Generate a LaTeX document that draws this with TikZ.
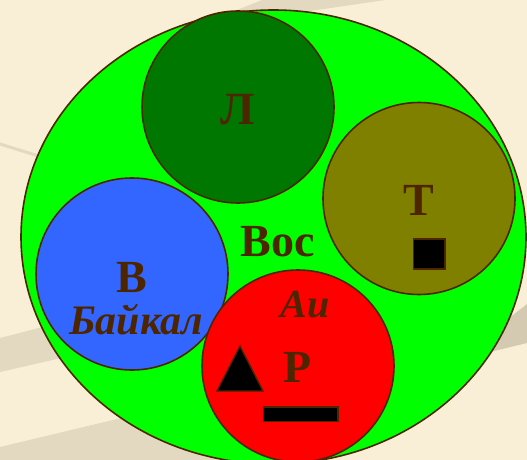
\documentclass[tikz,border=0pt]{standalone}
\usepackage{fontspec}
\setmainfont{Liberation Serif}
\usetikzlibrary{positioning}

\definecolor{bgBeige}{RGB}{248,239,214}
\definecolor{bgStripe}{RGB}{226,217,192}
\definecolor{bgStripeDark}{RGB}{212,202,178}
\definecolor{rimBrown}{RGB}{77,38,0}
\definecolor{lakeGreen}{RGB}{0,255,0}
\definecolor{darkGreen}{RGB}{0,119,0}
\definecolor{oliveDisc}{RGB}{128,128,0}
\definecolor{blueDisc}{RGB}{51,102,255}
\definecolor{redDisc}{RGB}{255,0,0}

\tikzset{
  disc/.style={
    circle, draw=rimBrown, line width=1.6pt,
    minimum size=192pt, inner sep=0pt
  },
  bigLabel/.style={
    text=rimBrown, inner sep=0pt, anchor=base,
    font=\fontsize{46}{46}\selectfont\bfseries
  },
  slantLabel/.style={
    text=rimBrown, inner sep=0pt, anchor=base,
    font=\fontsize{#1}{#1}\selectfont\bfseries\itshape
  },
  markShape/.style={fill=black, draw=rimBrown, line width=1.4pt}
}

\begin{document}
\begin{tikzpicture}[x=1pt, y=-1pt]

\useasboundingbox (0,0) rectangle (527,460);
\clip (0,0) rectangle (527,460);

% --- background ---
\fill[bgBeige] (0,0) rectangle (527,460);
\fill[bgStripe] (222,16) -- (262,0) -- (385,0) -- (290,14) -- cycle;
\draw[bgStripe, line width=3pt] (0,144) -- (45,158);
\fill[bgStripe] (0,338) -- (70,320) -- (70,356) -- (0,372) -- cycle;
\fill[bgStripe] (0,447) -- (280,380) -- (280,460) -- (0,460) -- cycle;
\fill[bgStripeDark] (490,333) -- (527,304) -- (527,343) -- (490,352) -- cycle;

% --- outer lake ---
\draw[fill=lakeGreen, draw=rimBrown, line width=1.6pt]
  (273.5,237) ellipse (252.5pt and 227pt);

% --- discs ---
\node[disc, fill=darkGreen] (discL) at (238,107) {};
\node[disc, fill=oliveDisc] (discT) at (419,198.5) {};
\node[disc, fill=blueDisc] (discB) at (132,274) {};
\node[disc, fill=redDisc] (discR) at (298,366) {};

% --- labels ---
\node[bigLabel] (labL) at (238,124) {Л};
\node[bigLabel] (labT) at (419,215) {Т};
\node[bigLabel] (labVos) at (278,256) {Вос};
\node[bigLabel] (labB) at (132,292) {В};
\node[slantLabel=42] (labBaikal) at (136,334) {Байкал};
\node[slantLabel=40] (labAu) at (305,317.5) {Au};
\node[bigLabel] (labR) at (298,382.5) {Р};

% --- marks ---
\draw[markShape] (413.5,239) rectangle (445,269);
\draw[markShape] (240,346) -- (263,391) -- (217,391) -- cycle;
\draw[markShape] (263.5,407) rectangle (338,421.5);

\end{tikzpicture}
\end{document}
